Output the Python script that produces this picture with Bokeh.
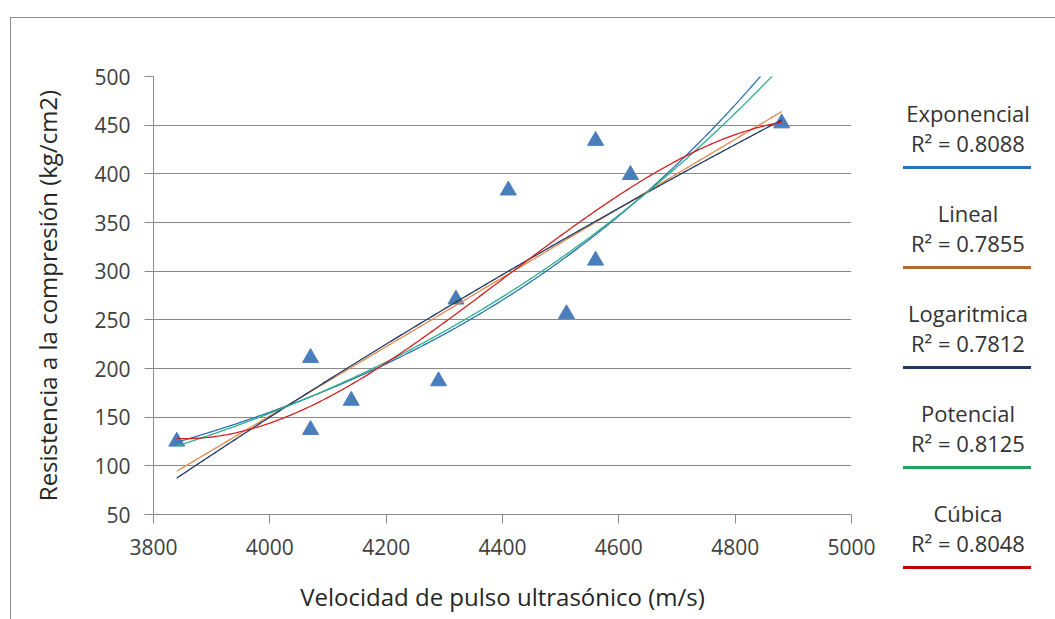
import numpy as np
from bokeh.plotting import figure
from bokeh.layouts import row
from bokeh.models import Range1d, FixedTicker, Div
from bokeh.embed import file_html
from bokeh.resources import INLINE

# ---- data ----
velocidad = [3840, 4070, 4070, 4140, 4290, 4320, 4410, 4510, 4560, 4560, 4620, 4880]
resistencia = [125, 211, 137, 167, 187, 271, 383, 256, 434, 311, 399, 452]

trend_names = ["Exponencial", "Lineal", "Logaritmica", "Potencial", "Cúbica"]
r2_values = ["0.8088", "0.7855", "0.7812", "0.8125", "0.8048"]
trend_colors = ["#2a72b5", "#b8692e", "#1f3864", "#22a35a", "#c00000"]
plot_colors = ["#2a72b5", "#e0894a", "#1f3864", "#2fb08a", "#d02020"]

x_ticks = [3800, 4000, 4200, 4400, 4600, 4800, 5000]
y_ticks = [50, 100, 150, 200, 250, 300, 350, 400, 450, 500]

FONT = "Open Sans"

# ---- trend lines fitted to the data (as the spreadsheet does) ----
xa = np.array(velocidad, dtype=float)
ya = np.array(resistencia, dtype=float)
xs = np.linspace(xa.min(), xa.max(), 300)

b_exp, a_exp = np.polyfit(xa, np.log(ya), 1)
y_exp = np.exp(a_exp) * np.exp(b_exp * xs)
lin = np.polyfit(xa, ya, 1)
y_lin = np.polyval(lin, xs)
lg = np.polyfit(np.log(xa), ya, 1)
y_log = np.polyval(lg, np.log(xs))
b_pow, a_pow = np.polyfit(np.log(xa), np.log(ya), 1)
y_pow = np.exp(a_pow) * xs ** b_pow
xc = xa.mean()
cub = np.polyfit(xa - xc, ya, 3)
y_cub = np.polyval(cub, xs - xc)
fits = [y_exp, y_lin, y_log, y_pow, y_cub]

FL, FT, FW, FH = 142, 58, 698, 438

p = figure(frame_width=FW, frame_height=FH,
           x_range=Range1d(3800, 5000), y_range=Range1d(50, 500),
           output_backend="svg", toolbar_location=None,
           min_border_left=FL, min_border_right=30,
           min_border_top=FT, min_border_bottom=97)
p.outline_line_color = None
p.background_fill_color = "white"
p.border_fill_color = "white"
p.xgrid.visible = False
p.ygrid.grid_line_color = "#8a8a8a"
p.ygrid.grid_line_width = 1
p.xaxis.ticker = FixedTicker(ticks=x_ticks)
p.yaxis.ticker = FixedTicker(ticks=y_ticks)
for ax in (p.xaxis[0], p.yaxis[0]):
    ax.axis_line_color = "#8a8a8a"
    ax.major_tick_line_color = "#8a8a8a"
    ax.major_tick_out = 9
    ax.major_tick_in = 0
    ax.minor_tick_line_color = None
    ax.major_label_text_font = FONT
    ax.major_label_text_font_size = "21px"
    ax.major_label_text_color = "#404040"
    ax.axis_label_text_font = FONT
    ax.axis_label_text_font_size = "24px"
    ax.axis_label_text_font_style = "normal"
    ax.axis_label_text_color = "#262626"
p.xaxis.axis_label = "Velocidad de pulso ultrasónico (m/s)"
p.yaxis.axis_label = "Resistencia a la compresión (kg/cm2)"
p.xaxis.major_label_standoff = 15
p.yaxis.major_label_standoff = 14
p.xaxis.axis_label_standoff = 22
p.yaxis.axis_label_standoff = 27

p.scatter(velocidad, resistencia, marker="triangle", size=16,
          fill_color="#4a7ebb", line_color="#4a7ebb")
for yy, col in zip(fits, plot_colors):
    p.line(xs, yy, line_color=col, line_width=1.3)

# ---- legend panel at the right (HTML text) ----
LW, LH = 166, 593
cx = 82
parts = []
for i, (nm, r2, col) in enumerate(zip(trend_names, r2_values, trend_colors)):
    ny = 90 + 100 * i
    parts.append(
        f'<div style="position:absolute;left:{cx}px;top:{ny}px;transform:translate(-50%,-50%);'
        f'white-space:nowrap;line-height:1;">{nm}</div>')
    parts.append(
        f'<div style="position:absolute;left:{cx}px;top:{ny + 30}px;transform:translate(-50%,-50%);'
        f'white-space:nowrap;line-height:1;">R² = {r2}</div>')
    parts.append(
        f'<div style="position:absolute;left:17px;top:{ny + 53}px;width:128px;height:3px;'
        f'background:{col};"></div>')
html = (f'<div style="position:relative;width:{LW}px;height:{LH}px;font-family:\'Open Sans\';'
        f'font-size:22px;color:#333333;background:white;">' + "".join(parts) + '</div>')
legend_div = Div(text=html, width=LW, height=LH)

layout = row(p, legend_div, spacing=0, margin=(17, 0, 0, 10),
             styles={"border-left": "1px solid #8c8c8c", "border-top": "1px solid #8c8c8c",
                     "background": "white"})

open("out.html", "w").write(file_html(layout, INLINE))
